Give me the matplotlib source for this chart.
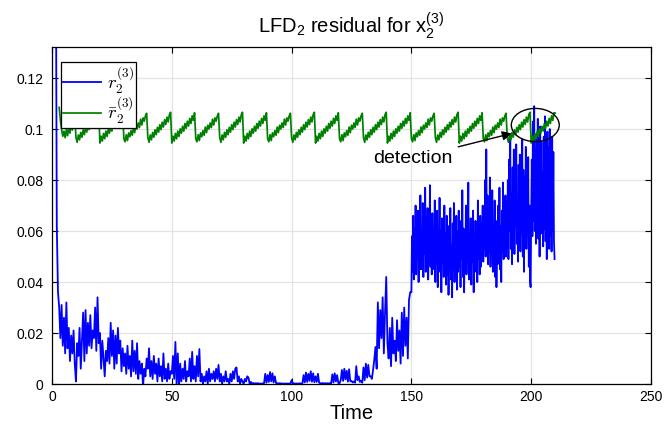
import numpy as np
import matplotlib
matplotlib.use("Agg")
import matplotlib.pyplot as plt
from matplotlib.patches import Ellipse
from matplotlib.font_manager import FontProperties
from matplotlib.ticker import FuncFormatter

# ---------------- data ----------------
# residual r_2^(3): t = 0 .. 149.5 sampled every 0.5
dt_early = 0.5
residual_early = [
    # 0 .. 9.5
    0.90, 0.55, 0.35, 0.20, 0.062, 0.036, 0.030, 0.018, 0.031, 0.015,
    0.026, 0.012, 0.032, 0.014, 0.022, 0.009, 0.019, 0.012, 0.021, 0.008,
    # 10 .. 19.5
    0.001, 0.016, 0.011, 0.022, 0.006, 0.017, 0.028, 0.009, 0.029, 0.012,
    0.024, 0.015, 0.027, 0.014, 0.021, 0.018, 0.030, 0.013, 0.034, 0.016,
    # 20 .. 29.5
    0.020, 0.006, 0.017, 0.010, 0.003, 0.013, 0.009, 0.018, 0.008, 0.024,
    0.011, 0.021, 0.006, 0.019, 0.008, 0.022, 0.012, 0.017, 0.005, 0.014,
    # 30 .. 39.5
    0.007, 0.012, 0.004, 0.015, 0.006, 0.011, 0.003, 0.017, 0.005, 0.013,
    0.004, 0.016, 0.002, 0.009, 0.004, 0.008, -0.001, 0.006, 0.003, 0.010,
    # 40 .. 49.5
    0.006, 0.014, 0.003, 0.009, 0.002, 0.011, 0.004, 0.008, 0.001, 0.010,
    0.003, 0.007, 0.001, 0.012, 0.002, 0.006, 0.001, 0.008, 0.002, 0.005,
    # 50 .. 59.5
    0.004, 0.011, 0.002, 0.0165, 0.000, 0.012, -0.0015, 0.008, 0.001, 0.006,
    0.002, 0.009, 0.001, 0.005, 0.003, 0.010, 0.001, 0.0126, 0.002, 0.007,
    # 60 .. 69.5
    0.001, 0.011, 0.003, 0.0137, 0.001, 0.004, 0.000, 0.003, 0.001, 0.005,
    0.000, 0.006, 0.001, 0.004, 0.002, 0.005, 0.001, 0.006, 0.002, 0.0075,
    # 70 .. 79.5
    0.001, 0.004, 0.000, 0.003, 0.001, 0.005, 0.001, 0.002, 0.000, 0.004,
    0.001, 0.005, 0.002, 0.006, 0.0065, 0.001, 0.003, 0.000, 0.002, 0.001,
    # 80 .. 89.5
    0.000, 0.002, 0.001, 0.003, 0.0025, 0.000, 0.0008, 0.0002, 0.0004, 0.0001,
    0.0003, 0.0002, 0.0003, 0.0001, 0.0002, 0.0001, 0.0002, 0.0003, 0.004, 0.0005,
    # 90 .. 99.5
    0.0035, 0.0008, 0.0047, 0.0010, 0.0042, 0.0006, 0.0030, 0.0004, 0.0003, 0.0002,
    0.0003, 0.0002, 0.0002, 0.0001, 0.0002, 0.0001, 0.0002, 0.0001, 0.0002, 0.0001,
    # 100 .. 109.5
    0.0015, 0.0002, 0.0003, 0.0001, 0.0002, 0.0001, 0.0002, 0.0003, 0.0001, 0.0002,
    0.0035, 0.0006, 0.0045, 0.0008, 0.0040, 0.0012, 0.0050, 0.0009, 0.0042, 0.0007,
    # 110 .. 119.5
    0.0030, 0.0008, 0.0040, 0.0005, 0.0003, 0.0002, 0.0004, 0.0002, 0.0003, 0.0002,
    0.0003, 0.0002, 0.0003, 0.0002, 0.0038, 0.0006, 0.0042, 0.0010, 0.0035, 0.0004,
    # 120 .. 129.5
    0.0003, 0.0015, 0.0055, 0.0012, 0.0060, 0.0018, 0.0052, 0.0009, 0.0058, 0.0010,
    0.0012, 0.0006, 0.0010, 0.0005, 0.0070, 0.0015, 0.0030, 0.0008, 0.0012, 0.0005,
    # 130 .. 139.5
    0.0065, 0.0015, 0.0080, 0.0025, 0.0075, 0.0030, 0.0030, 0.0020, 0.0055, 0.0094,
    0.0145, 0.0060, 0.032, 0.014, 0.029, 0.018, 0.034, 0.012, 0.028, 0.042,
    # 140 .. 149.5
    0.016, 0.010, 0.022, 0.007, 0.026, 0.012, 0.017, 0.009, 0.025, 0.013,
    0.021, 0.008, 0.028, 0.011, 0.030, 0.015, 0.026, 0.010, 0.033, 0.036,
]

# residual r_2^(3): t = 150 .. 209.75 sampled every 0.25 (dense faulty part)
dt_late = 0.25
t_late_start = 150.0
residual_late = [
    # 150 .. 154.75
    0.036, 0.058, 0.044, 0.066, 0.041, 0.061, 0.048, 0.070, 0.043, 0.057,
    0.050, 0.068, 0.040, 0.062, 0.046, 0.074, 0.045, 0.059, 0.049, 0.071,
    # 155 .. 159.75
    0.042, 0.064, 0.051, 0.077, 0.044, 0.060, 0.047, 0.069, 0.041, 0.056,
    0.052, 0.078, 0.046, 0.063, 0.043, 0.067, 0.050, 0.058, 0.045, 0.072,
    # 160 .. 164.75
    0.040, 0.061, 0.047, 0.068, 0.038, 0.057, 0.049, 0.073, 0.044, 0.060,
    0.036, 0.065, 0.048, 0.055, 0.042, 0.070, 0.046, 0.059, 0.039, 0.066,
    # 165 .. 169.75
    0.043, 0.062, 0.035, 0.058, 0.047, 0.069, 0.041, 0.054, 0.034, 0.063,
    0.045, 0.071, 0.040, 0.057, 0.048, 0.066, 0.037, 0.060, 0.044, 0.068,
    # 170 .. 174.75
    0.046, 0.059, 0.038, 0.064, 0.049, 0.076, 0.042, 0.061, 0.036, 0.057,
    0.047, 0.070, 0.043, 0.062, 0.050, 0.079, 0.041, 0.058, 0.045, 0.065,
    # 175 .. 179.75
    0.039, 0.060, 0.048, 0.068, 0.036, 0.055, 0.044, 0.064, 0.047, 0.061,
    0.040, 0.072, 0.049, 0.058, 0.043, 0.066, 0.046, 0.063, 0.051, 0.070,
    # 180 .. 184.75
    0.048, 0.069, 0.053, 0.080, 0.050, 0.092, 0.055, 0.074, 0.047, 0.066,
    0.052, 0.081, 0.046, 0.063, 0.054, 0.076, 0.044, 0.060, 0.050, 0.072,
    # 185 .. 189.75
    0.042, 0.064, 0.038, 0.058, 0.047, 0.070, 0.051, 0.077, 0.045, 0.062,
    0.040, 0.068, 0.052, 0.079, 0.049, 0.066, 0.055, 0.074, 0.050, 0.071,
    # 190 .. 194.75
    0.056, 0.080, 0.049, 0.088, 0.060, 0.097, 0.053, 0.075, 0.047, 0.085,
    0.058, 0.092, 0.051, 0.079, 0.062, 0.094, 0.055, 0.072, 0.048, 0.086,
    # 195 .. 199.75
    0.057, 0.090, 0.052, 0.078, 0.059, 0.096, 0.050, 0.084, 0.044, 0.081,
    0.056, 0.093, 0.053, 0.076, 0.061, 0.089, 0.046, 0.070, 0.041, 0.038,
    # 200 .. 204.75
    0.066, 0.088, 0.058, 0.103, 0.064, 0.109, 0.060, 0.092, 0.055, 0.098,
    0.063, 0.104, 0.057, 0.086, 0.050, 0.101, 0.059, 0.095, 0.062, 0.083,
    # 205 .. 209.75
    0.054, 0.097, 0.061, 0.105, 0.056, 0.090, 0.049, 0.099, 0.064, 0.093,
    0.053, 0.100, 0.058, 0.087, 0.052, 0.097, 0.060, 0.091, 0.056, 0.049,
]

# adaptive threshold r̄_2^(3): t = 0 .. 210 sampled every 0.5
dt_thr = 0.5
nan = np.nan
threshold = [
    # 0 .. 9.5
    nan, nan, nan, nan, nan, nan, 0.1085, 0.1035, 0.0998, 0.0972,
    0.0992, 0.0966, 0.0998, 0.0974, 0.1008, 0.0984, 0.1020, 0.0996, 0.1036, 0.1056,
    # 10 .. 19.5
    0.0967, 0.0948, 0.0977, 0.0958, 0.0987, 0.0968, 0.0997, 0.0978, 0.1007, 0.0988,
    0.1017, 0.0998, 0.1027, 0.1008, 0.1037, 0.1018, 0.1047, 0.1028, 0.1057, 0.1066,
    # 20 .. 29.5
    0.0945, 0.0972, 0.0953, 0.0983, 0.0962, 0.0992, 0.0971, 0.1001, 0.0984, 0.1011,
    0.0992, 0.1022, 0.1003, 0.1031, 0.1012, 0.1042, 0.1022, 0.1052, 0.1034, 0.1064,
    # 30 .. 39.5
    0.0962, 0.0950, 0.0978, 0.0955, 0.0985, 0.0970, 0.0994, 0.0976, 0.1008, 0.0986,
    0.1015, 0.1000, 0.1024, 0.1006, 0.1039, 0.1016, 0.1044, 0.1031, 0.1052, 0.1062,
    # 40 .. 49.5
    0.0967, 0.0948, 0.0977, 0.0958, 0.0987, 0.0968, 0.0997, 0.0978, 0.1007, 0.0988,
    0.1017, 0.0998, 0.1027, 0.1008, 0.1037, 0.1018, 0.1047, 0.1028, 0.1057, 0.1066,
    # 50 .. 59.5
    0.0945, 0.0972, 0.0953, 0.0983, 0.0962, 0.0992, 0.0971, 0.1001, 0.0984, 0.1011,
    0.0992, 0.1022, 0.1003, 0.1031, 0.1012, 0.1042, 0.1022, 0.1052, 0.1034, 0.1064,
    # 60 .. 69.5
    0.0962, 0.0950, 0.0978, 0.0955, 0.0985, 0.0970, 0.0994, 0.0976, 0.1008, 0.0986,
    0.1015, 0.1000, 0.1024, 0.1006, 0.1039, 0.1016, 0.1044, 0.1031, 0.1052, 0.1062,
    # 70 .. 79.5
    0.0967, 0.0948, 0.0977, 0.0958, 0.0987, 0.0968, 0.0997, 0.0978, 0.1007, 0.0988,
    0.1017, 0.0998, 0.1027, 0.1008, 0.1037, 0.1018, 0.1047, 0.1028, 0.1057, 0.1066,
    # 80 .. 89.5
    0.0945, 0.0972, 0.0953, 0.0983, 0.0962, 0.0992, 0.0971, 0.1001, 0.0984, 0.1011,
    0.0992, 0.1022, 0.1003, 0.1031, 0.1012, 0.1042, 0.1022, 0.1052, 0.1034, 0.1064,
    # 90 .. 99.5
    0.0962, 0.0950, 0.0978, 0.0955, 0.0985, 0.0970, 0.0994, 0.0976, 0.1008, 0.0986,
    0.1015, 0.1000, 0.1024, 0.1006, 0.1039, 0.1016, 0.1044, 0.1031, 0.1052, 0.1062,
    # 100 .. 109.5
    0.0967, 0.0948, 0.0977, 0.0958, 0.0987, 0.0968, 0.0997, 0.0978, 0.1007, 0.0988,
    0.1017, 0.0998, 0.1027, 0.1008, 0.1037, 0.1018, 0.1047, 0.1028, 0.1057, 0.1066,
    # 110 .. 119.5
    0.0945, 0.0972, 0.0953, 0.0983, 0.0962, 0.0992, 0.0971, 0.1001, 0.0984, 0.1011,
    0.0992, 0.1022, 0.1003, 0.1031, 0.1012, 0.1042, 0.1022, 0.1052, 0.1034, 0.1064,
    # 120 .. 129.5
    0.0962, 0.0950, 0.0978, 0.0955, 0.0985, 0.0970, 0.0994, 0.0976, 0.1008, 0.0986,
    0.1015, 0.1000, 0.1024, 0.1006, 0.1039, 0.1016, 0.1044, 0.1031, 0.1052, 0.1062,
    # 130 .. 139.5
    0.0967, 0.0948, 0.0977, 0.0958, 0.0987, 0.0968, 0.0997, 0.0978, 0.1007, 0.0988,
    0.1017, 0.0998, 0.1027, 0.1008, 0.1037, 0.1018, 0.1047, 0.1028, 0.1057, 0.1066,
    # 140 .. 149.5
    0.0945, 0.0972, 0.0953, 0.0983, 0.0962, 0.0992, 0.0971, 0.1001, 0.0984, 0.1011,
    0.0992, 0.1022, 0.1003, 0.1031, 0.1012, 0.1042, 0.1022, 0.1052, 0.1034, 0.1064,
    # 150 .. 159.5
    0.0962, 0.0950, 0.0978, 0.0955, 0.0985, 0.0970, 0.0994, 0.0976, 0.1008, 0.0986,
    0.1015, 0.1000, 0.1024, 0.1006, 0.1039, 0.1016, 0.1044, 0.1031, 0.1052, 0.1062,
    # 160 .. 169.5
    0.0967, 0.0948, 0.0977, 0.0958, 0.0987, 0.0968, 0.0997, 0.0978, 0.1007, 0.0988,
    0.1017, 0.0998, 0.1027, 0.1008, 0.1037, 0.1018, 0.1047, 0.1028, 0.1057, 0.1066,
    # 170 .. 179.5
    0.0945, 0.0972, 0.0953, 0.0983, 0.0962, 0.0992, 0.0971, 0.1001, 0.0984, 0.1011,
    0.0992, 0.1022, 0.1003, 0.1031, 0.1012, 0.1042, 0.1022, 0.1052, 0.1034, 0.1064,
    # 180 .. 189.5
    0.0962, 0.0950, 0.0978, 0.0955, 0.0985, 0.0970, 0.0994, 0.0976, 0.1008, 0.0986,
    0.1015, 0.1000, 0.1024, 0.1006, 0.1039, 0.1016, 0.1044, 0.1031, 0.1052, 0.1062,
    # 190 .. 199.5
    0.0967, 0.0948, 0.0977, 0.0958, 0.0987, 0.0968, 0.0997, 0.0978, 0.1007, 0.0988,
    0.1017, 0.0998, 0.1027, 0.1008, 0.1037, 0.1018, 0.1047, 0.1028, 0.1057, 0.1066,
    # 200 .. 209.5
    0.0945, 0.0972, 0.0953, 0.0983, 0.0962, 0.0992, 0.0971, 0.1001, 0.0984, 0.1011,
    0.0992, 0.1022, 0.1003, 0.1031, 0.1012, 0.1042, 0.1022, 0.1052, 0.1034, 0.1064,
    # 210
    0.1063,
]

x_ticks = [0, 50, 100, 150, 200, 250]
y_ticks = [0, 0.02, 0.04, 0.06, 0.08, 0.10, 0.12]

# detection annotation
det_text_pos = (150.7, 0.0886)
det_arrow_tip = (191.9, 0.0983)
det_ellipse_center = (201.7, 0.1016)
det_ellipse_size = (20.0, 0.0130)

# ---------------- plotting ----------------
plt.rcParams['font.family'] = ['Liberation Sans', 'DejaVu Sans']

t_early = np.arange(len(residual_early)) * dt_early
t_late = t_late_start + np.arange(len(residual_late)) * dt_late
t_res = np.concatenate([t_early, t_late])
res = np.concatenate([residual_early, residual_late])
t_thr = np.arange(len(threshold)) * dt_thr

fig = plt.figure(figsize=(6.65, 4.24), dpi=100)
ax = fig.add_axes([52/665, 40/424, 599/665, 337/424])

ax.plot(t_res, res, color='#0000ff', lw=1.3, label=r'$r_2^{(3)}$')
ax.plot(t_thr, threshold, color='#008000', lw=1.25, label=r'$\bar{r}_2^{(3)}$')

ax.set_xlim(0, 250)
ax.set_ylim(0, 0.1322)
ax.set_xticks(x_ticks)
ax.set_yticks(y_ticks)
ax.yaxis.set_major_formatter(FuncFormatter(lambda v, p: '0' if v == 0 else ('%g' % round(v, 4))))

ax.grid(True, color='#e3e3e3', lw=0.9)
ax.set_axisbelow(True)
ax.tick_params(direction='in', top=True, right=True, length=4, width=0.8,
               labelsize=10, colors='black')
ax.tick_params(axis='y', pad=6)
ax.tick_params(axis='x', pad=4)
for s in ax.spines.values():
    s.set_linewidth(0.9)
    s.set_color('black')

ax.set_xlabel('Time', fontsize=14.5, labelpad=0)
ax.set_title(r'LFD$_\mathregular{2}$ residual for x$_\mathregular{2}^\mathregular{(3)}$',
             fontsize=14.5, pad=10)

leg_font = FontProperties(size=13.5, math_fontfamily='cm')
leg = ax.legend(loc='upper left', bbox_to_anchor=(0.015, 0.955), borderaxespad=0,
                prop=leg_font, fancybox=False, edgecolor='black', framealpha=1,
                handlelength=2.05, handletextpad=0.3, borderpad=0.1, labelspacing=-0.05)
leg.get_frame().set_linewidth(0.9)

ax.annotate('detection', xy=det_arrow_tip, xytext=det_text_pos,
            ha='center', va='center', fontsize=14,
            arrowprops=dict(arrowstyle='-|>', color='black', lw=1.0,
                            mutation_scale=14, shrinkA=2, shrinkB=0))
ax.add_patch(Ellipse(det_ellipse_center, det_ellipse_size[0], det_ellipse_size[1],
                     fill=False, edgecolor='black', lw=1.0, zorder=5))

fig.savefig('out.png', dpi=100)
